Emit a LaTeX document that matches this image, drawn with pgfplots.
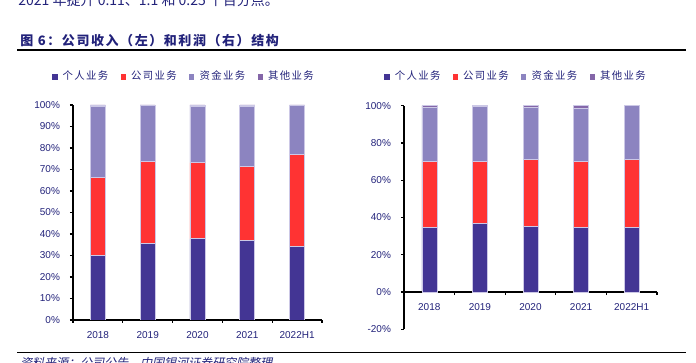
\documentclass[border=0pt]{standalone}
\usepackage{pgfplots}
\pgfplotsset{compat=1.18}
\usepackage{pgfplotstable}
\usepackage{fontspec}
\setmainfont{Liberation Sans}
\newfontfamily\cjk{Noto Sans CJK SC}
\newfontfamily\cjkleg[LetterSpace=13]{Noto Sans CJK SC}
\newfontfamily\cjktitle[LetterSpace=12]{Noto Sans CJK SC}
\newfontfamily\cjksrc[FakeSlant=0.2]{Noto Sans CJK SC}
\definecolor{cPer}{HTML}{433594}
\definecolor{cCorp}{HTML}{FF3333}
\definecolor{cCap}{HTML}{8C84C0}
\definecolor{cOth}{HTML}{8466A8}
\definecolor{navy}{HTML}{22227A}
\definecolor{edge}{HTML}{CCC8E6}

\pgfplotstableread{
x per corp cap oth
0 29.9 36.5 33.0 0.6
1 35.5 38.3 26.0 0.2
2 37.8 35.4 26.2 0.6
3 36.9 34.6 27.9 0.6
4 34.3 42.8 22.8 0.1
}\leftdata
\pgfplotstableread{
x per corp cap oth
0 34.7 35.2 29.0 1.1
1 36.7 33.6 29.4 0.3
2 35.1 35.9 27.9 1.1
3 34.5 35.6 28.7 1.2
4 34.7 36.5 28.8 0.0
}\rightdata

\pgfplotsset{
  legsq/.style={legend image code/.code={\fill[##1,draw=none] (0pt,-1.3pt) rectangle (2.6pt,1.3pt);}},
  mystyle/.style={
    scale only axis, ybar stacked, bar width=7.5pt,
    xmin=-0.5, xmax=4.5,
    xtick={-0.5,0.5,1.5,2.5,3.5,4.5}, xticklabels={,,,,,},
    extra x ticks={0,1,2,3,4},
    extra x tick labels={2018,2019,2020,2021,2022H1},
    extra x tick style={tick style={draw=none}},
    tick align=outside, major tick length=1.5pt,
    axis line style={black, line width=0.6pt},
    tick style={black, line width=0.6pt},
    ticklabel style={font=\fontsize{5}{6}\selectfont, text=navy},
    /pgf/number format/assume math mode=true,
    yticklabel={\pgfmathprintnumber{\tick}\%},
    yticklabel style={xshift=-1.5pt},
    xticklabel style={yshift=-0.5pt},
    legend columns=4,
    legend style={draw=none, fill=none, inner sep=0pt,
      font=\cjkleg\fontsize{5.2}{6}\selectfont, text=navy,
      /tikz/every odd column/.append style={column sep=0.6pt},
      /tikz/every even column/.append style={column sep=4.2pt}},
    every axis plot/.append style={draw=edge, line width=0.3pt},
  }
}

\begin{document}
\begin{tikzpicture}
\useasboundingbox (0,0) rectangle (348pt,-181.5pt);
\clip (0,0) rectangle (348pt,-181.5pt);

\node[anchor=base west, inner sep=0pt, text=navy] at (9pt,-2.6pt)
  {\cjk\fontsize{7}{8}\selectfont 2021 年提升 0.11、1.1 和 0.25 个百分点。};
\node[anchor=base west, inner sep=0pt, text=navy] at (10pt,-23pt)
  {\cjktitle\bfseries\fontsize{6.5}{8}\selectfont 图 6：公司收入（左）和利润（右）结构};
\draw[black, line width=0.6pt] (8.5pt,-25pt) -- (343pt,-25pt);
\draw[black, line width=0.4pt] (8.5pt,-176pt) -- (343pt,-176pt);
\node[anchor=north west, inner sep=0pt, text=navy] at (10pt,-178.3pt)
  {\cjksrc\fontsize{6}{7}\selectfont 资料来源：公司公告，中国银河证券研究院整理};

\begin{axis}[mystyle,
  at={(36.5pt,-160pt)}, anchor=south west,
  width=124.5pt, height=107.5pt,
  ymin=0, ymax=100, ytick={0,10,...,100},
  axis x line*=bottom, axis y line*=left,
  legend style={at={(0.45,1.13)}, anchor=center},
]
\addplot[fill=cPer, legsq] table[x=x,y=per] {\leftdata};
\addplot[fill=cCorp, legsq] table[x=x,y=corp] {\leftdata};
\addplot[fill=cCap, legsq] table[x=x,y=cap] {\leftdata};
\addplot[fill=cOth, legsq] table[x=x,y=oth] {\leftdata};
\legend{个人业务,公司业务,资金业务,其他业务}
\end{axis}

\begin{axis}[mystyle,
  at={(202pt,-164.65pt)}, anchor=south west,
  width=126.5pt, height=111.8pt,
  ymin=-20, ymax=100, ytick={-20,0,...,100},
  axis x line*=middle, axis y line*=left,
  legend style={at={(0.447,1.128)}, anchor=center},
]
\addplot[fill=cPer, legsq] table[x=x,y=per] {\rightdata};
\addplot[fill=cCorp, legsq] table[x=x,y=corp] {\rightdata};
\addplot[fill=cCap, legsq] table[x=x,y=cap] {\rightdata};
\addplot[fill=cOth, legsq] table[x=x,y=oth] {\rightdata};
\legend{个人业务,公司业务,资金业务,其他业务}
\end{axis}
\end{tikzpicture}
\end{document}
